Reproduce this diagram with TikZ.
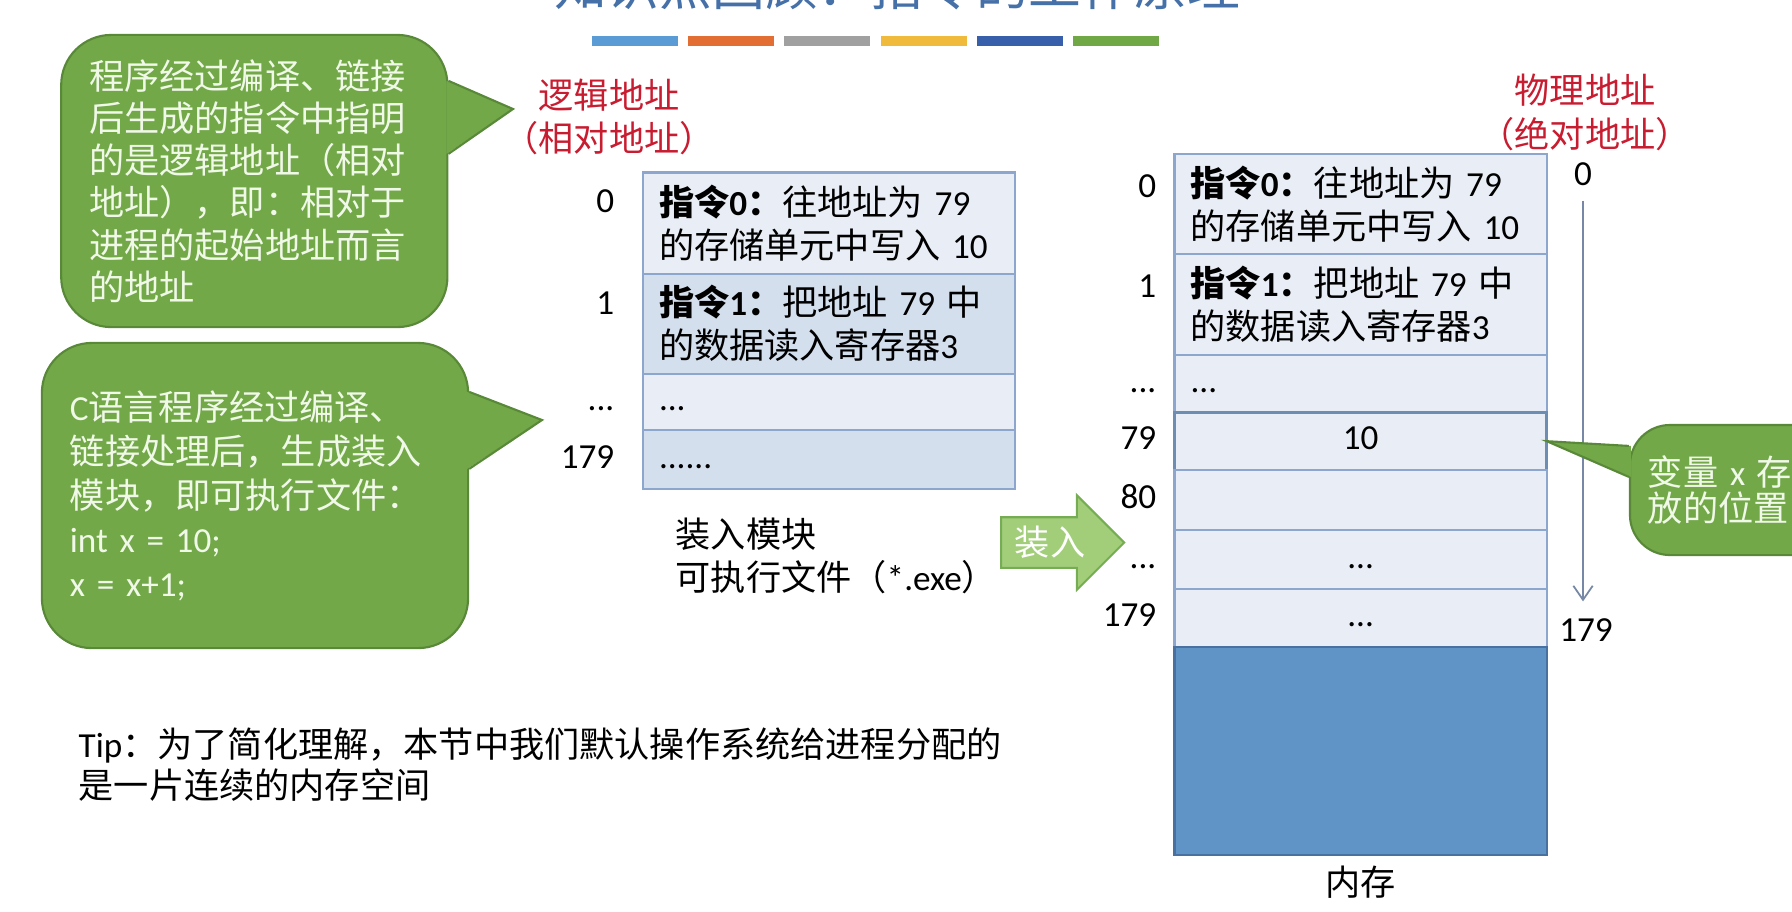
\documentclass[tikz,border=0pt]{standalone}
\usepackage{fontspec}
\setmainfont{Noto Sans CJK SC}
\newfontfamily\calibri{Carlito}
\usepackage{tikz}
\usetikzlibrary{positioning,calc,shapes.arrows,arrows.meta}
\definecolor{TitleBlue}{RGB}{70,112,168}
\definecolor{BarBlue}{RGB}{91,155,213}
\definecolor{BarOrange}{RGB}{226,110,52}
\definecolor{BarGray}{RGB}{160,160,160}
\definecolor{BarGold}{RGB}{240,186,60}
\definecolor{BarNavy}{RGB}{55,95,170}
\definecolor{BarGreen}{RGB}{112,168,70}
\definecolor{TipGreen}{RGB}{114,168,72}
\definecolor{TipEdge}{RGB}{88,136,56}
\definecolor{TipText}{RGB}{240,248,232}
\definecolor{AddrRed}{RGB}{200,28,48}
\definecolor{CellLight}{RGB}{233,238,246}
\definecolor{CellDark}{RGB}{212,223,238}
\definecolor{CellEdge}{RGB}{140,166,205}
\definecolor{MemBlue}{RGB}{96,148,198}
\definecolor{MemEdge}{RGB}{72,112,160}
\definecolor{LoadGreen}{RGB}{162,206,122}
\definecolor{LoadEdge}{RGB}{118,172,84}
\definecolor{AxisGray}{RGB}{118,136,165}
\newcommand{\en}[1]{{\calibri #1}}
\newcommand{\sz}[2]{\fontsize{#1}{#2}\selectfont}

\tikzset{
  bubble/.style={fill=TipGreen, draw=TipEdge, line width=0.6pt, rounded corners=0.5cm, text=TipText, align=left, inner xsep=0.28cm, inner ysep=0pt, font=\sz{10}{12}},
  cell/.style={draw=CellEdge, line width=0.6pt, minimum width=3.72cm, text width=3.4cm, inner xsep=0.16cm, inner ysep=0.05cm, align=left, outer sep=0pt, font=\sz{10}{12.3}, execute at begin node=\strut},
  addr/.style={font=\sz{10}{12}\calibri, inner sep=0pt, text height=8.6pt, text depth=3.7pt},
  redaddr/.style={text=AddrRed, align=center, inner sep=0pt, font=\sz{10}{12.4}},
  plain/.style={align=left, inner sep=0pt, font=\sz{10}{12.2}},
  loadarrow/.style={single arrow, single arrow head extend=0.22cm, minimum height=1.23cm, inner xsep=0.05cm, inner ysep=0.08cm, fill=LoadGreen, draw=LoadEdge, line width=0.6pt, text=white, font=\sz{10}{12}},
  axisline/.style={draw=AxisGray, line width=0.5pt, -{Straight Barb[length=4pt,width=5.5pt]}, shorten >=2.5pt, shorten <=0.5pt}
}

\begin{document}
\begin{tikzpicture}[x=0.01cm, y=-0.01cm, node distance=0pt]
    \useasboundingbox (0,0) rectangle (1792,911);
    \clip (0,0) rectangle (1792,911);

    % Title and colour bars
    \node [anchor=base, text=TitleBlue, inner sep=0pt, font=\sz{15}{18}] (title) at (897,5) {知识点回顾：指令的工作原理};
    \foreach \c [count=\i from 0] in {BarBlue,BarOrange,BarGray,BarGold,BarNavy,BarGreen}
      \fill[\c] ({592+96.2*\i},36) rectangle ++(86,10);

    % Logical side
    \node [redaddr] (logical) at (609,117) {逻辑地址\\（相对地址）};
    \node [cell, fill=CellLight, minimum height=1.01cm, anchor=north west] (lrow0) at (643,172.5) {\textbf{指令\en{0}：}往地址为 \en{79}\\的存储单元中写入 \en{10}};
    \node [cell, fill=CellDark, minimum height=1.0cm, below=of lrow0] (lrow1) {\textbf{指令\en{1}：}把地址 \en{79} 中\\的数据读入寄存器\en{3}};
    \node [cell, fill=CellLight, minimum height=0.565cm, below=of lrow1] (lrow2) {\en{...}};
    \node [cell, fill=CellDark, minimum height=0.585cm, below=of lrow2] (lrow3) {\en{......}};

    \node [addr, left=0.28cm of lrow0.west, yshift=0.195cm] (la0) {0};
    \node [addr, left=0.28cm of lrow1.west, yshift=0.18cm] (la1) {1};
    \node [addr, left=0.28cm of lrow2.west] (la2) {...};
    \node [addr, left=0.28cm of lrow3.west] (la3) {179};

    \node [plain, below right=0.29cm and 0.32cm of lrow3.south west] (module) {装入模块\\可执行文件（\en{*.exe}）};

    % Physical side
    \node [redaddr] (physical) at (1585,112.5) {物理地址\\（绝对地址）};
    \node [cell, fill=CellLight, minimum height=1.0cm, anchor=north west] (prow0) at (1174.5,154) {\textbf{指令\en{0}：}往地址为 \en{79}\\的存储单元中写入 \en{10}};
    \node [cell, fill=CellLight, minimum height=1.01cm, below=of prow0] (prow1) {\textbf{指令\en{1}：}把地址 \en{79} 中\\的数据读入寄存器\en{3}};
    \node [cell, fill=CellLight, minimum height=0.57cm, below=of prow1] (prow2) {\en{...}};
    \node [cell, fill=CellLight, draw=MemEdge!80, line width=0.8pt, minimum height=0.58cm, align=center, below=of prow2] (prow3) {\en{10}};
    \node [cell, fill=CellLight, minimum height=0.6cm, below=of prow3] (prow4) {};
    \node [cell, fill=CellLight, minimum height=0.59cm, align=center, below=of prow4] (prow5) {\en{...}};
    \node [cell, fill=CellLight, minimum height=0.58cm, align=center, below=of prow5] (prow6) {\en{...}};
    \node [cell, fill=MemBlue, draw=MemEdge, minimum height=2.08cm, below=of prow6] (mem) {};
    \node [plain, below=0.1cm of mem] (memlabel) {内存};

    \node [addr, left=0.175cm of prow0.west, yshift=0.155cm] (pa0) {0};
    \node [addr, left=0.175cm of prow1.west, yshift=0.16cm] (pa1) {1};
    \node [addr, left=0.175cm of prow2.west] (pa2) {...};
    \node [addr, left=0.175cm of prow3.west] (pa3) {79};
    \node [addr, left=0.175cm of prow4.west] (pa4) {80};
    \node [addr, left=0.175cm of prow5.west] (pa5) {...};
    \node [addr, left=0.175cm of prow6.west] (pa6) {179};

    \node [addr] (ax0) at (1583,176.5) {0};
    \node [addr] (ax179) at (1586,632.5) {179};
    \draw [axisline] (ax0.south) -- (ax0.south |- ax179.north);

    % Load arrow
    \node [loadarrow] (load) at (1050,542.5) {装入};

    % Callouts
    \node [bubble, text width=3.3cm, minimum width=3.853cm, minimum height=2.92cm] (c1) at (254.3,181) {程序经过编译、链接\\后生成的指令中指明\\的是逻辑地址（相对\\地址），即：相对于\\进程的起始地址而言\\的地址};
    \coordinate (tip1) at (513,109);
    \fill [TipGreen] ($(c1.north east)+(-2,47)$) -- (tip1) -- ($(c1.north east)+(-2,120)$) -- cycle;
    \draw [TipEdge, line width=0.6pt] ($(c1.north east)+(0,47)$) -- (tip1) -- ($(c1.north east)+(0,120)$);

    \node [bubble, text width=3.7cm, minimum width=4.26cm, minimum height=3.05cm, font=\sz{10}{12.5}] (c2) at (255,495.5) {\en{C}语言程序经过编译、\\链接处理后，生成装入\\模块，即可执行文件：\\\en{int x = 10;}\\\en{x = x+1;}};
    \coordinate (tip2) at (542,420);
    \fill [TipGreen] ($(c2.north east)+(-2,50)$) -- (tip2) -- ($(c2.north east)+(-2,127)$) -- cycle;
    \draw [TipEdge, line width=0.6pt] ($(c2.north east)+(0,50)$) -- (tip2) -- ($(c2.north east)+(0,127)$);

    \node [bubble, rounded corners=0.4cm, text width=1.84cm, inner xsep=0.18cm, minimum width=2.2cm, minimum height=1.3cm, font=\sz{10}{10.3}] (c3) at (1740,490) {变量 \en{x} 存\\放的位置};
    \fill [TipGreen] ($(c3.north west)+(2,22)$) -- (prow3.east) -- ($(c3.north west)+(2,53)$) -- cycle;
    \draw [TipEdge, line width=0.6pt] ($(c3.north west)+(0,22)$) -- (prow3.east) -- ($(c3.north west)+(0,53)$);

    % Tip
    \node [plain, anchor=north west, font=\sz{10}{11.7}] (tip) at (78,727) {\en{Tip}：为了简化理解，本节中我们默认操作系统给进程分配的\\是一片连续的内存空间};
  \end{tikzpicture}
\end{document}
